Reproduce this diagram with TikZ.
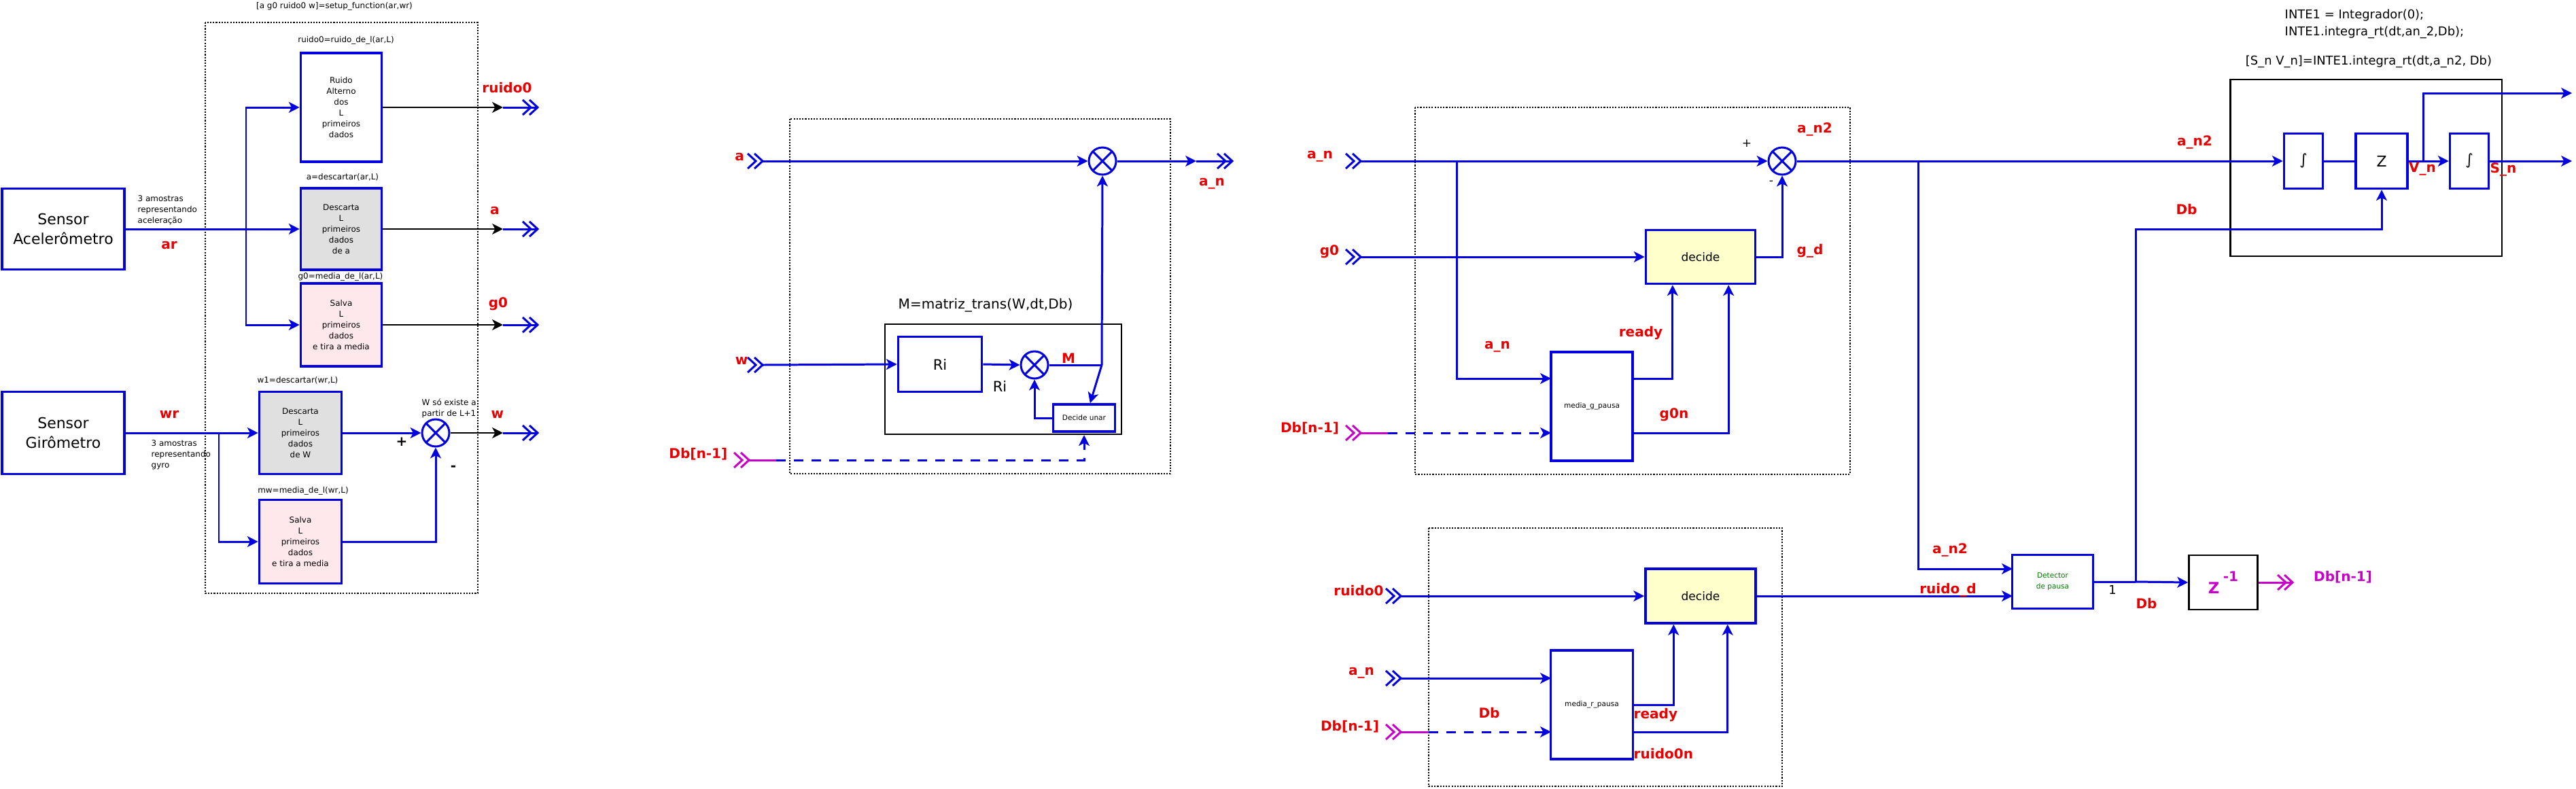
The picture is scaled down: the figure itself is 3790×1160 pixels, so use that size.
\documentclass[tikz,border=0pt]{standalone}
\usepackage{fontspec}
\setmainfont{DejaVu Sans}
\usepackage{xcolor}
\usepackage{tikz}
\usetikzlibrary{arrows.meta,calc}

\definecolor{wireblue}{RGB}{0,0,225}
\definecolor{lblred}{RGB}{232,0,0}
\definecolor{dbmag}{RGB}{200,0,200}
\definecolor{grayfill}{RGB}{224,224,224}
\definecolor{pinkfill}{RGB}{255,232,236}
\definecolor{yelfill}{RGB}{255,255,204}
\definecolor{detgreen}{RGB}{0,120,0}

\newcommand{\ftiny}{\fontsize{3pt}{4.55pt}\selectfont}
\newcommand{\fnote}{\fontsize{3.4pt}{4.55pt}\selectfont}
\newcommand{\fdec}{\fontsize{4.85pt}{6pt}\selectfont}
\newcommand{\fmid}{\fontsize{5.1pt}{7.1pt}\selectfont}
\newcommand{\fbig}{\fontsize{5.7pt}{6.8pt}\selectfont}
\newcommand{\fri}{\fontsize{6pt}{7pt}\selectfont}
\newcommand{\fsen}{\fontsize{6.25pt}{8.5pt}\selectfont}

\tikzset{pics/chev/.style={code={
  \draw[line width=0.85pt] (-22,-11) -- (-10,0) -- (-22,11) (-12,-11) -- (0,0) -- (-12,11);}}}

\begin{document}
\begin{tikzpicture}[x=0.01cm, y=-0.01cm,
  wire/.style={wireblue, line width=0.85pt},
  bwire/.style={black, line width=0.7pt},
  mwire/.style={dbmag, line width=0.85pt},
  dwire/.style={wire, dash pattern=on 4pt off 3.4pt},
  arr/.style={-{Stealth[length=4.5pt,width=4.5pt,inset=1.2pt]}},
  bbox/.style={draw=wireblue, line width=1pt, inner sep=0, align=center, font=\fnote},
  kbox/.style={draw=black, line width=0.65pt, inner sep=0},
  sumc/.style={circle, draw=wireblue, line width=0.85pt, minimum size=0.4cm, inner sep=0,
    path picture={\draw[wireblue, line width=0.85pt]
      (path picture bounding box.south west) -- (path picture bounding box.north east)
      (path picture bounding box.north west) -- (path picture bounding box.south east);}},
  lbl/.style={text=lblred, font=\fbig\bfseries, inner sep=0},
  note/.style={font=\fnote, inner sep=0, align=left},
  dotbox/.style={black, line width=0.6pt, dash pattern=on 0.6pt off 0.6pt}]
\useasboundingbox (0,0) rectangle (3790,1160);

% Setup function
\node[note] (tsetup) at (492,9) {[a g0 ruido0 w]=setup\_function(ar,wr)};
\draw[dotbox] (302,33) rectangle (703,873);
\node[draw=wireblue, line width=1pt, minimum width=1.8cm, minimum height=1.19cm, font=\fsen, align=center] (acc) at (93,337) {Sensor\\Acelerômetro};
\node[draw=wireblue, line width=1pt, minimum width=1.8cm, minimum height=1.21cm, font=\fsen, align=center] (gyro) at (93,637) {Sensor\\Girômetro};
\node[note, anchor=west] (acctxt) at (202,309) {3 amostras\\representando\\aceleração};
\node[note, anchor=west] (gyrtxt) at (222,669) {3 amostras\\representando\\gyro};
\node[lbl] (lar) at (249,361) {ar};
\node[lbl] (lwr) at (249,610) {wr};

\node[note] (rlab) at (509,59) {ruido0=ruido\_de\_l(ar,L)};
\node[bbox, minimum width=1.19cm, minimum height=1.6cm] (rbox) at (502,158) {Ruido\\Alterno\\dos\\L\\primeiros\\dados};
\node[note] (alab) at (504,261) {a=descartar(ar,L)};
\node[bbox, fill=grayfill, minimum width=1.19cm, minimum height=1.2cm] (abox) at (502,337) {Descarta\\L\\primeiros\\dados\\de a};
\node[note] (glab) at (501,407) {g0=media\_de\_l(ar,L)};
\node[bbox, fill=pinkfill, minimum width=1.19cm, minimum height=1.22cm] (gbox) at (502,478) {Salva\\L\\primeiros\\dados\\e tira a media};
\node[note] (w1lab) at (438,560) {w1=descartar(wr,L)};
\node[bbox, fill=grayfill, minimum width=1.21cm, minimum height=1.21cm] (w1box) at (442,637) {Descarta\\L\\primeiros\\dados\\de W};
\node[note] (mwlab) at (446,722) {mw=media\_de\_l(wr,L)};
\node[bbox, fill=pinkfill, minimum width=1.21cm, minimum height=1.23cm] (mwbox) at (442,797) {Salva\\L\\primeiros\\dados\\e tira a media};
\node[sumc] (sw) at (641,637) {};
\node[font=\fbig\bfseries, inner sep=0] (plw) at (591,650) {+};
\node[font=\fbig\bfseries, inner sep=0] (mnw) at (667,689) {-};
\node[note, anchor=west] (wnote) at (620,601) {W só existe a\\partir de L+1};

\coordinate (jA) at (362,337);
\coordinate (jW) at (322,637);
\draw[wire, arr] (acc.east) -- (abox.west);
\draw[wire, arr] (jA) |- (rbox.west);
\draw[wire, arr] (jA) |- (gbox.west);
\draw[wire, arr] (gyro.east) -- (w1box.west);
\draw[wire, arr] (jW) |- (mwbox.west);
\draw[wire, arr] (w1box.east) -- (sw.west);
\draw[wire, arr] (mwbox.east) -| (sw.south);

% Outputs of setup
\coordinate (oR) at (740,158); \coordinate (pR) at (791,158);
\coordinate (oA) at (740,337); \coordinate (pA) at (791,337);
\coordinate (oG) at (740,478); \coordinate (pG) at (791,478);
\coordinate (oW) at (740,637); \coordinate (pW) at (791,637);
\draw[bwire, arr] (rbox.east) -- (oR);
\draw[bwire, arr] (abox.east) -- (oA);
\draw[bwire, arr] (gbox.east) -- (oG);
\draw[bwire, arr] (sw.east) -- (oW);
\foreach \o/\p in {oR/pR, oA/pA, oG/pG, oW/pW} {
  \draw[wire] (\o) -- (\p);
  \pic[wireblue] at (\p) {chev};
}
\node[lbl] (lr0a) at (746,129) {ruido0};
\node[lbl] (laa) at (728,310) {a};
\node[lbl] (lg0a) at (733,447) {g0};
\node[lbl] (lwa) at (732,610) {w};

% Rotation block
\draw[dotbox] (1162,175) rectangle (1722,697);
\node[lbl] (la) at (1088,231) {a};
\node[lbl] (lw) at (1091,531) {w};
\node[lbl, anchor=east] (ldb1) at (1071,668) {Db[n-1]};
\coordinate (pa) at (1122,237); \pic[wireblue] at (pa) {chev};
\coordinate (pw) at (1122,537); \pic[wireblue] at (pw) {chev};
\coordinate (pdb1) at (1102,677); \pic[dbmag] at (pdb1) {chev};
\node[sumc] (m1) at (1622,237) {};
\node[kbox, minimum width=3.48cm, minimum height=1.62cm] (mt) at (1476,558) {};
\node[font=\fbig, inner sep=0] (mtlab) at (1450,449) {M=matriz\_trans(W,dt,Db)};
\node[bbox, font=\fri, minimum width=1.23cm, minimum height=0.81cm] (ri) at (1383,536) {Ri};
\node[font=\fri, inner sep=0] (lri) at (1471,568) {Ri};
\node[sumc] (m2) at (1522,537) {};
\node[bbox, font=\ftiny, minimum width=0.91cm, minimum height=0.4cm] (dec) at (1595,615) {Decide unar};
\node[lbl] (lM) at (1572,527) {M};
\coordinate (jM) at (1621,537);
\coordinate (db1m) at (1142,677);
\draw[wire, arr] (pa) -- (m1.west);
\draw[wire, arr] (pw) -- (ri.west);
\draw[wire, arr] (ri.east) -- (m2.west);
\draw[wire] (m2.east) -- (jM);
\draw[wire, arr] (jM) -- (m1.south);
\draw[wire, arr] (jM) -- (dec.68);
\draw[wire, arr] (dec.west) -| (m2.south);
\draw[mwire] (pdb1) -- (db1m);
\draw[dwire, arr] (db1m) -| (dec.south |- mt.south);
\coordinate (oan) at (1760,237); \coordinate (pan1) at (1813,237);
\draw[wire, arr] (m1.east) -- (oan);
\draw[wire] (oan) -- (pan1);
\pic[wireblue] at (pan1) {chev};
\node[lbl] (lan1) at (1783,270) {a\_n};

% Gravity removal
\draw[dotbox] (2082,158) rectangle (2722,698);
\node[lbl] (lan2) at (1942,230) {a\_n};
\node[lbl] (lg0) at (1956,370) {g0};
\node[lbl] (ldb2) at (1927,630) {Db[n-1]};
\coordinate (pan2) at (2002,237); \pic[wireblue] at (pan2) {chev};
\coordinate (pg0) at (2002,378); \pic[wireblue] at (pg0) {chev};
\coordinate (pdb2) at (2002,637); \pic[dbmag] at (pdb2) {chev};
\node[sumc] (s2) at (2622,237) {};
\node[bbox, fill=yelfill, font=\fdec, minimum width=1.61cm, minimum height=0.79cm] (decg) at (2502,378) {decide};
\node[bbox, font=\ftiny, minimum width=1.2cm, minimum height=1.6cm] (mg) at (2342,598) {media\_g\_pausa};
\coordinate (jan) at (2143,237);
\coordinate (mgA) at (2282,557); \coordinate (mgB) at (2282,637);
\coordinate (mgR) at (2402,557); \coordinate (mgS) at (2402,637);
\coordinate (db2m) at (2042,637);
\draw[wire, arr] (pan2) -- (s2.west);
\draw[wire, arr] (jan) |- (mgA);
\draw[wire, arr] (pg0) -- (decg.west);
\draw[wire, arr] (decg.east) -| (s2.south);
\draw[wire, arr] (mgR) -| ($(decg.south west)!0.25!(decg.south east)$);
\draw[wire, arr] (mgS) -| ($(decg.south west)!0.75!(decg.south east)$);
\draw[mwire] (pdb2) -- (db2m);
\draw[dwire, arr] (db2m) -- (mgB);
\node[font=\fdec, inner sep=0] (pls2) at (2570,211) {+};
\node[font=\fdec, inner sep=0] (mns2) at (2606,269) {-};
\node[lbl] (lan2b) at (2670,190) {a\_n2};
\node[lbl] (lgd) at (2663,369) {g\_d};
\node[lbl] (lan2c) at (2203,510) {a\_n};
\node[lbl] (lrdy1) at (2414,490) {ready};
\node[lbl] (lg0n) at (2463,610) {g0n};

% Noise estimate
\draw[dotbox] (2102,777) rectangle (2622,1157);
\node[lbl] (lr0) at (1999,869) {ruido0};
\node[lbl] (lan3) at (2003,990) {a\_n};
\node[lbl] (ldb3) at (1986,1069) {Db[n-1]};
\coordinate (pr0) at (2061,877); \pic[wireblue] at (pr0) {chev};
\coordinate (pan3) at (2061,998); \pic[wireblue] at (pan3) {chev};
\coordinate (pdb3) at (2061,1077); \pic[dbmag] at (pdb3) {chev};
\node[bbox, fill=yelfill, font=\fdec, minimum width=1.62cm, minimum height=0.8cm] (decr) at (2502,877) {decide};
\node[bbox, font=\ftiny, minimum width=1.21cm, minimum height=1.6cm] (mr) at (2342,1037) {media\_r\_pausa};
\coordinate (mrA) at (2282,998); \coordinate (mrB) at (2282,1077);
\coordinate (mrR) at (2403,1037); \coordinate (mrS) at (2403,1077);
\coordinate (db3m) at (2102,1077);
\draw[wire, arr] (pr0) -- (decr.west);
\draw[wire, arr] (pan3) -- (mrA);
\draw[wire, arr] (mrR) -| ($(decr.south west)!0.26!(decr.south east)$);
\draw[wire, arr] (mrS) -| ($(decr.south west)!0.74!(decr.south east)$);
\draw[mwire] (pdb3) -- (db3m);
\draw[dwire, arr] (db3m) -- (mrB);
\node[lbl] (ldb3b) at (2191,1049) {Db};
\node[lbl, anchor=west] (lrdy2) at (2403,1052) {ready};
\node[lbl, anchor=west] (lr0n) at (2403,1109) {ruido0n};

% Pause detector
\node[bbox, font=\ftiny, text=detgreen, minimum width=1.19cm, minimum height=0.79cm] (det) at (3020,856) {Detector\\de pausa};
\coordinate (jn2) at (2822,237);
\coordinate (detA) at (2961,837); \coordinate (detB) at (2961,877);
\draw[wire, arr] (jn2) |- (detA);
\draw[wire, arr] (decr.east) -- (detB);
\node[lbl] (lan2d) at (2869,809) {a\_n2};
\node[lbl] (lrd) at (2866,868) {ruido\_d};

% Integrator
\node[font=\fmid, align=left, anchor=west, inner sep=0] (inte) at (3361,35) {INTE1 = Integrador(0);\\INTE1.integra\_rt(dt,an\_2,Db);};
\node[font=\fmid, inner sep=0] (ibl) at (3485,91) {[S\_n V\_n]=INTE1.integra\_rt(dt,a\_n2, Db)};
\node[kbox, minimum width=3.99cm, minimum height=2.6cm] (ib) at (3481,247) {};
\node[bbox, font=\fsen, minimum width=0.57cm, minimum height=0.81cm] (int1) at (3389,237) {∫};
\node[bbox, font=\fsen, minimum width=0.76cm, minimum height=0.81cm] (zb) at (3504,237) {Z};
\node[bbox, font=\fsen, minimum width=0.57cm, minimum height=0.81cm] (int2) at (3633,237) {∫};
\coordinate (jV) at (3565,237);
\coordinate (oV) at (3784,137); \coordinate (oS) at (3784,237);
\draw[wire, arr] (s2.east) -- (int1.west);
\draw[wire] (int1.east) -- (zb.west);
\draw[wire, arr] (zb.east) -- (int2.west);
\draw[wire, arr] (jV) |- (oV);
\draw[wire, arr] (int2.east) -- (oS);
\node[lbl] (lan2e) at (3229,209) {a\_n2};
\node[lbl] (lvn) at (3564,249) {V\_n};
\node[lbl] (lsn) at (3683,249) {S\_n};
\node[lbl] (ldb4) at (3217,308) {Db};

% Delay of Db
\node[kbox, line width=0.75pt, minimum width=1.01cm, minimum height=0.8cm, text=dbmag] (z1) at (3271,857) {\fontsize{6.5pt}{6.5pt}\selectfont\bfseries Z\hspace{1.5pt}\raisebox{5pt}{\fbig -1}};
\coordinate (jDb) at (3142,856);
\coordinate (dbK) at (3142,337);
\coordinate (pdbo) at (3373,857);
\draw[wire] (det.east) -- (jDb);
\draw[wire, arr] (jDb) -- (z1.west);
\draw[wire, arr] (jDb) -- (dbK) -| (zb.south);
\draw[mwire] (z1.east) -- (pdbo);
\pic[dbmag] at (pdbo) {chev};
\node[font=\fmid, inner sep=0] (lone) at (3108,868) {1};
\node[lbl] (ldb5) at (3158,888) {Db};
\node[text=dbmag, font=\fbig\bfseries, inner sep=0] (ldbo) at (3447,849) {Db[n-1]};
\end{tikzpicture}
\end{document}
